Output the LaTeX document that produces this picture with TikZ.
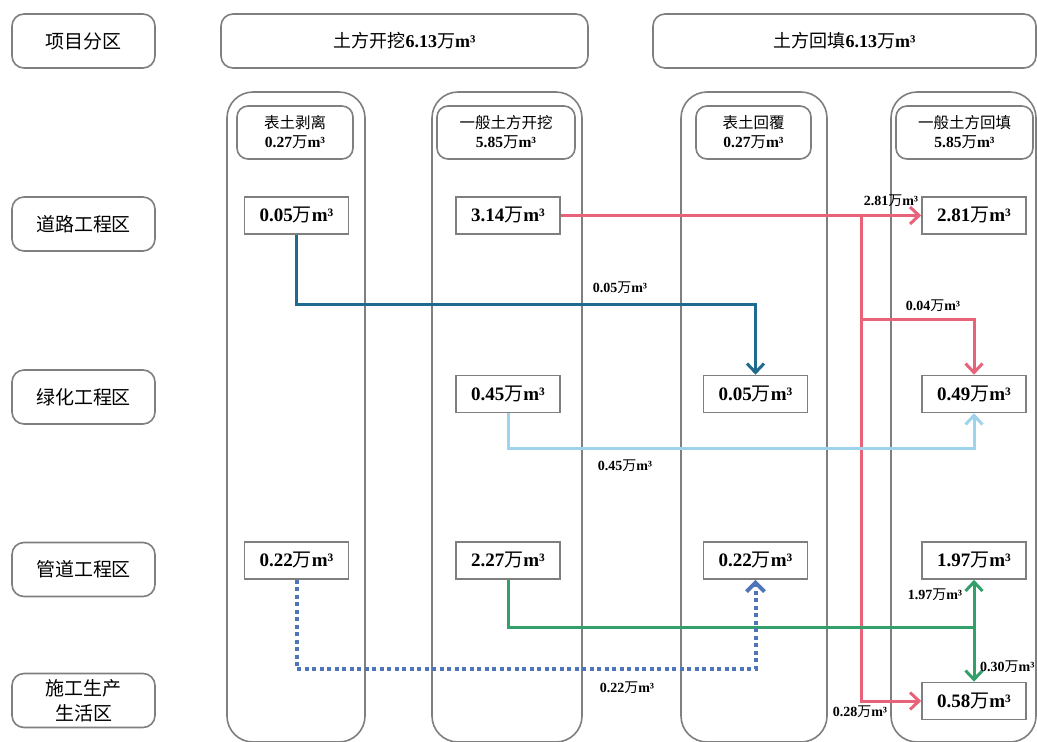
\documentclass[tikz,border=0pt]{standalone}
\usepackage{fontspec}
\setmainfont{Liberation Serif}
\newfontfamily\zh{Noto Sans CJK SC}
\usetikzlibrary{arrows.meta}

\definecolor{frame}{HTML}{7F7F7F}
\definecolor{flowA}{HTML}{1F6A8E}
\definecolor{flowB}{HTML}{E8627A}
\definecolor{flowC}{HTML}{9FD3EC}
\definecolor{flowD}{HTML}{33A06C}
\definecolor{flowE}{HTML}{4F74B8}

% amount in 10^4 m^3
\newcommand{\amt}[1]{\textbf{#1}{\zh 万}\textbf{m³}}

\tikzset{
  zone/.style={draw=frame, line width=1.6pt, rounded corners=12pt, fill=white,
    minimum width=143pt, minimum height=54pt, align=center,
    font=\zh\fontsize{19}{24}\selectfont},
  topbox/.style={draw=frame, line width=1.6pt, rounded corners=12pt, fill=white,
    minimum height=54pt, font=\fontsize{18}{22}\selectfont},
  lane/.style={draw=frame, line width=1.6pt, rounded corners=26pt, fill=white,
    minimum height=650pt},
  subhead/.style={draw=frame, line width=1.6pt, rounded corners=11pt, fill=white,
    minimum height=53pt, align=center, font=\fontsize{15.5}{19}\selectfont},
  valbox/.style={draw=frame, line width=1.6pt, fill=white,
    minimum width=104pt, minimum height=37pt, font=\fontsize{19}{22}\selectfont},
  flowlabel/.style={font=\fontsize{14}{16}\selectfont, inner sep=1pt},
  flow/.style={line width=3pt},
  tip/.style={-{Straight Barb[length=9pt,width=17pt]}},
}

\begin{document}
\begin{tikzpicture}[x=1pt,y=-1pt]
\useasboundingbox (0,0) rectangle (1037,742);

% lanes
\node[lane, minimum width=138pt] (lane1) at (296,417) {};
\node[lane, minimum width=150pt] (lane2) at (507,417) {};
\node[lane, minimum width=146pt] (lane3) at (754,417) {};
\node[lane, minimum width=145pt] (lane4) at (963.5,417) {};

% row labels
\node[zone] (z0) at (83.5,41) {项目分区};
\node[zone] (z1) at (83.5,224) {道路工程区};
\node[zone] (z2) at (83.5,397) {绿化工程区};
\node[zone] (z3) at (83.5,569.5) {管道工程区};
\node[zone, font=\zh\fontsize{19}{25}\selectfont] (z4) at (83.5,700.5) {施工生产\\生活区};

% top headers
\node[topbox, minimum width=367pt] (cut) at (404.5,41) {{\zh 土方开挖}\amt{6.13}};
\node[topbox, minimum width=383pt] (fill) at (844.5,41) {{\zh 土方回填}\amt{6.13}};

% lane headers
\node[subhead, minimum width=116pt] (h1) at (295,132.5) {{\zh 表土剥离}\\\amt{0.27}};
\node[subhead, minimum width=138pt] (h2) at (506,132.5) {{\zh 一般土方开挖}\\\amt{5.85}};
\node[subhead, minimum width=115pt] (h3) at (753.5,132.5) {{\zh 表土回覆}\\\amt{0.27}};
\node[subhead, minimum width=137pt] (h4) at (964.5,132.5) {{\zh 一般土方回填}\\\amt{5.85}};

% amounts
\node[valbox] (r1c1) at (296.5,215.5) {\amt{0.05}};
\node[valbox] (r1c2) at (508,215.5) {\amt{3.14}};
\node[valbox] (r1c4) at (974,215.5) {\amt{2.81}};
\node[valbox] (r2c2) at (508,394) {\amt{0.45}};
\node[valbox] (r2c3) at (755.5,394) {\amt{0.05}};
\node[valbox] (r2c4) at (974,394) {\amt{0.49}};
\node[valbox] (r3c1) at (296.5,560.5) {\amt{0.22}};
\node[valbox] (r3c2) at (508,560.5) {\amt{2.27}};
\node[valbox] (r3c3) at (755.5,560.5) {\amt{0.22}};
\node[valbox] (r3c4) at (974,560.5) {\amt{1.97}};
\node[valbox] (r4c4) at (974,701) {\amt{0.58}};

% bend points
\coordinate (bA) at (296.5,304);
\coordinate (bB) at (861,215.5);
\coordinate (bB2) at (861,319);
\coordinate (bC) at (508,448);
\coordinate (bD) at (974,627);
\coordinate (bE) at (296.5,669);

% topsoil: road -> greening
\draw[flow, flowA, tip] (r1c1.south) -- (bA) -| (r2c3.north);
% general earth from road excavation
\draw[flow, flowB, tip] (r1c2.east) -- (r1c4.west);
\draw[flow, flowB, tip] (bB) |- (r4c4.west);
\draw[flow, flowB, tip] (bB2) -| (r2c4.north);
% greening excavation
\draw[flow, flowC, tip] (r2c2.south) -- (bC) -| (r2c4.south);
% pipeline excavation
\draw[flow, flowD] (r3c2.south) |- (bD);
\draw[flow, flowD, tip] (bD) -- (r3c4.south);
\draw[flow, flowD, tip] (bD) -- (r4c4.north);
% pipeline topsoil
\draw[flowE, line width=4pt, dash pattern=on 4pt off 3.5pt,
  -{Straight Barb[length=9pt,width=18pt]}] (r3c1.south) -- (bE) -| (r3c3.south);

% flow amounts
\node[flowlabel] (lA) at (620,288) {\amt{0.05}};
\node[flowlabel] (lB1) at (891,201) {\amt{2.81}};
\node[flowlabel] (lB2) at (933,306) {\amt{0.04}};
\node[flowlabel] (lB3) at (860,712) {\amt{0.28}};
\node[flowlabel] (lC) at (625,466) {\amt{0.45}};
\node[flowlabel] (lD1) at (935,595) {\amt{1.97}};
\node[flowlabel, anchor=west] (lD2) at (979,667) {\amt{0.30}};
\node[flowlabel] (lE) at (627,688) {\amt{0.22}};
\end{tikzpicture}
\end{document}
